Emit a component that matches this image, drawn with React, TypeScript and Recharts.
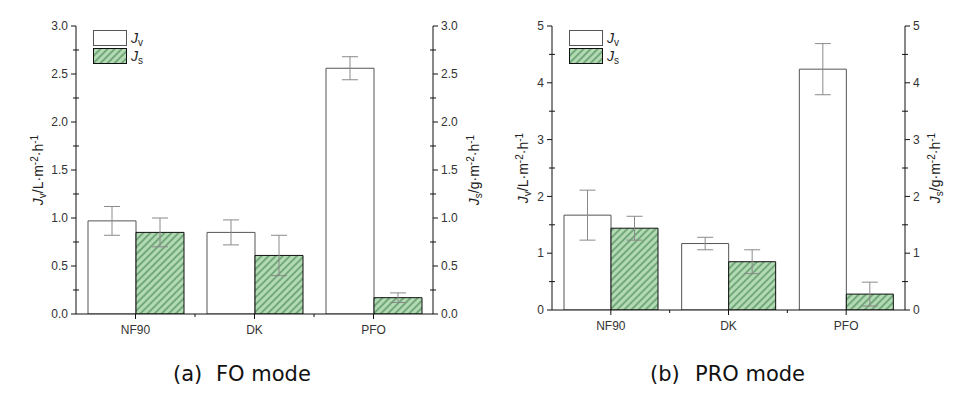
import React from 'react';
import { BarChart, Bar, XAxis, YAxis, ErrorBar, Legend } from 'recharts';

const categories = ['NF90', 'DK', 'PFO'];

const foJv = [0.97, 0.85, 2.56];
const foJvErr = [0.15, 0.13, 0.12];
const foJs = [0.85, 0.61, 0.17];
const foJsErr = [0.15, 0.21, 0.05];

const proJv = [1.67, 1.17, 4.24];
const proJvErr = [0.44, 0.11, 0.45];
const proJs = [1.44, 0.85, 0.28];
const proJsErr = [0.21, 0.21, 0.21];

const foMajorTicks = [0, 0.5, 1, 1.5, 2, 2.5, 3];
const foMinorTicks = [0.25, 0.75, 1.25, 1.75, 2.25, 2.75];
const proMajorTicks = [0, 1, 2, 3, 4, 5];
const proMinorTicks = [0.5, 1.5, 2.5, 3.5, 4.5];

const seriesOrder = ['v', 's'];

const captions = [
  { tag: '(a)', text: 'FO mode' },
  { tag: '(b)', text: 'PRO mode' },
];

const foData = categories.map((c, i) => ({ cat: c, jv: foJv[i], jvErr: foJvErr[i], js: foJs[i], jsErr: foJsErr[i] }));
const proData = categories.map((c, i) => ({ cat: c, jv: proJv[i], jvErr: proJvErr[i], js: proJs[i], jsErr: proJsErr[i] }));

const FONT = '"Liberation Sans", Arial, sans-serif';
const CAPFONT = '"DejaVu Sans", sans-serif';
const TICK_COLOR = '#333';
const TS = 5; // tick size
const TM = 3; // tick margin

const isIn = (arr: number[], v: number) => arr.some((a) => Math.abs(a - v) < 1e-9);

function makeLeftTick(major: number[], fmt: (v: number) => string) {
  return (props: any) => {
    const { x, y, payload } = props;
    const v = payload.value;
    const ax = x + TS + TM;
    const maj = isIn(major, v);
    return (
      <g>
        <line x1={maj ? ax - 5 : ax - 3} x2={maj ? ax : ax + 3} y1={y} y2={y} stroke="#111" strokeWidth={1} />
        {maj && (
          <text x={x} y={y} dy="0.35em" textAnchor="end" fontFamily={FONT} fontSize={12} fill={TICK_COLOR}>
            {fmt(v)}
          </text>
        )}
      </g>
    );
  };
}

function makeRightTick(major: number[], fmt: (v: number) => string) {
  return (props: any) => {
    const { x, y, payload } = props;
    const v = payload.value;
    const ax = x - TS - TM;
    const maj = isIn(major, v);
    return (
      <g>
        <line x1={maj ? ax : ax - 3} x2={maj ? ax + 5 : ax + 3} y1={y} y2={y} stroke="#111" strokeWidth={1} />
        {maj && (
          <text x={x} y={y} dy="0.35em" textAnchor="start" fontFamily={FONT} fontSize={12} fill={TICK_COLOR}>
            {fmt(v)}
          </text>
        )}
      </g>
    );
  };
}

function makeBottomTick(band: number, n: number) {
  return (props: any) => {
    const { x, y, payload, index } = props;
    const ay = y - TS - TM;
    return (
      <g>
        <line x1={x} x2={x} y1={ay} y2={ay + 5} stroke="#111" strokeWidth={1} />
        {index < n - 1 && (
          <line x1={x + band / 2} x2={x + band / 2} y1={ay} y2={ay + 3} stroke="#111" strokeWidth={1} />
        )}
        <text x={x} y={ay + 20} textAnchor="middle" fontFamily={FONT} fontSize={12} fill={TICK_COLOR}>
          {payload.value}
        </text>
      </g>
    );
  };
}

const LegendContent = (props: any) => {
  const items = [...(props.payload || [])].sort(
    (a: any, b: any) => seriesOrder.indexOf(a.value) - seriesOrder.indexOf(b.value)
  );
  return (
    <svg width={60} height={40} style={{ display: 'block', overflow: 'visible' }}>
      {items.map((p: any, i: number) => (
        <g key={i} transform={`translate(0, ${i * 18})`}>
          <rect
            x={0.5}
            y={0.5}
            width={33}
            height={15}
            fill={p.payload && p.payload.fill ? p.payload.fill : p.color}
            stroke={p.payload && p.payload.stroke ? p.payload.stroke : '#111'}
            strokeWidth={1}
          />
          <text x={38} y={13} fontFamily={FONT} fontSize={14} fill="#222">
            <tspan fontStyle="italic">J</tspan>
            <tspan fontSize={10} dy={3}>{p.value}</tspan>
          </text>
        </g>
      ))}
    </svg>
  );
};

function AxisTitle({ x, y, sym, unit }: { x: number; y: number; sym: string; unit: string }) {
  return (
    <text transform={`translate(${x}, ${y}) rotate(-90)`} textAnchor="middle" fontFamily={FONT} fontSize={14} fill="#222">
      <tspan fontStyle="italic">J</tspan>
      <tspan fontSize={10} dy={3}>{sym}</tspan>
      <tspan dy={-3}>{`/${unit}·m`}</tspan>
      <tspan fontSize={10} dy={-5}>-2</tspan>
      <tspan dy={5}>·h</tspan>
      <tspan fontSize={10} dy={-5}>-1</tspan>
    </text>
  );
}

type PanelProps = {
  data: any[];
  left: number;
  width: number;
  height: number;
  leftW: number;
  rightW: number;
  domainMax: number;
  major: number[];
  minor: number[];
  fmt: (v: number) => string;
  barSize: number;
  legendLeft: number;
};

function Panel(p: PanelProps) {
  const allTicks = [...p.major, ...p.minor].sort((a, b) => a - b);
  const plotW = p.width - p.leftW - p.rightW;
  const band = plotW / categories.length;
  return (
    <div style={{ position: 'absolute', left: p.left, top: 0, width: p.width, height: p.height }}>
      <BarChart
        width={p.width}
        height={p.height}
        data={p.data}
        margin={{ top: 26, right: 0, bottom: 0, left: 0 }}
        barGap={0}
        barSize={p.barSize}
      >
        <XAxis
          dataKey="cat"
          height={26}
          tickSize={TS}
          tickMargin={TM}
          tickLine={false}
          axisLine={{ stroke: '#111', strokeWidth: 1 }}
          tick={makeBottomTick(band, categories.length)}
          interval={0}
        />
        <YAxis
          yAxisId="left"
          orientation="left"
          width={p.leftW}
          domain={[0, p.domainMax]}
          ticks={allTicks}
          interval={0}
          tickSize={TS}
          tickMargin={TM}
          tickLine={false}
          axisLine={{ stroke: '#111', strokeWidth: 1 }}
          tick={makeLeftTick(p.major, p.fmt)}
          allowDataOverflow
        />
        <YAxis
          yAxisId="right"
          orientation="right"
          width={p.rightW}
          domain={[0, p.domainMax]}
          ticks={allTicks}
          interval={0}
          tickSize={TS}
          tickMargin={TM}
          tickLine={false}
          axisLine={{ stroke: '#111', strokeWidth: 1 }}
          tick={makeRightTick(p.major, p.fmt)}
          allowDataOverflow
        />
        <Legend
          layout="vertical"
          align="center"
          verticalAlign="middle"
          content={<LegendContent />}
          wrapperStyle={{ left: p.legendLeft, top: 30, width: 60, height: 40 }}
        />
        <Bar yAxisId="left" dataKey="jv" name="v" fill="#ffffff" stroke="#555" strokeWidth={1} isAnimationActive={false}>
          <ErrorBar dataKey="jvErr" width={8} stroke="#8a8a8a" strokeWidth={1} isAnimationActive={false} />
        </Bar>
        <Bar yAxisId="right" dataKey="js" name="s" fill="url(#hatchGreen)" stroke="#111" strokeWidth={1} isAnimationActive={false}>
          <ErrorBar dataKey="jsErr" width={8} stroke="#8a8a8a" strokeWidth={1} isAnimationActive={false} />
        </Bar>
      </BarChart>
    </div>
  );
}

export default function App() {
  return (
    <div style={{ position: 'absolute', left: 0, top: 0, width: 962, height: 399, background: '#fff', overflow: 'hidden' }}>
      <svg width={0} height={0} style={{ position: 'absolute' }}>
        <defs>
          <pattern id="hatchGreen" patternUnits="userSpaceOnUse" width={5} height={5} patternTransform="rotate(45)">
            <rect x={0} y={0} width={5} height={5} fill="#b3dbb3" />
            <line x1={1} y1={0} x2={1} y2={5} stroke="#3f7d4f" strokeWidth={1.1} />
          </pattern>
        </defs>
      </svg>
      <Panel
        data={foData}
        left={0}
        width={480}
        height={340}
        leftW={76}
        rightW={47}
        domainMax={3}
        major={foMajorTicks}
        minor={foMinorTicks}
        fmt={(v) => v.toFixed(1)}
        barSize={48}
        legendLeft={93}
      />
      <Panel
        data={proData}
        left={480}
        width={480}
        height={336}
        leftW={72}
        rightW={55}
        domainMax={5}
        major={proMajorTicks}
        minor={proMinorTicks}
        fmt={(v) => String(v)}
        barSize={47}
        legendLeft={89}
      />
      <svg width={962} height={399} style={{ position: 'absolute', left: 0, top: 0, pointerEvents: 'none' }}>
        <AxisTitle x={43} y={170} sym="v" unit="L" />
        <AxisTitle x={479} y={170} sym="s" unit="g" />
        <AxisTitle x={528} y={168} sym="v" unit="L" />
        <AxisTitle x={940} y={168} sym="s" unit="g" />
        <text x={173} y={381} fontFamily={CAPFONT} fontSize={21} fill="#111">
          {captions[0].tag}
        </text>
        <text x={216} y={381} fontFamily={CAPFONT} fontSize={21} fill="#111">
          {captions[0].text}
        </text>
        <text x={650} y={381} fontFamily={CAPFONT} fontSize={21} fill="#111">
          {captions[1].tag}
        </text>
        <text x={695} y={381} fontFamily={CAPFONT} fontSize={21} fill="#111">
          {captions[1].text}
        </text>
      </svg>
    </div>
  );
}
